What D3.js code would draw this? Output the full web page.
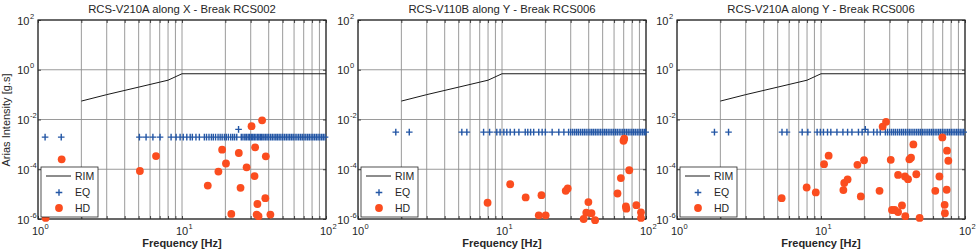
<!DOCTYPE html>
<html>
<head>
<meta charset="utf-8">
<script src="https://cdn.jsdelivr.net/npm/d3@7"></script>
<style>
body { margin: 0; background: #fff; }
text { font-family: "Liberation Sans", Arial, sans-serif; fill: #262626; }
</style>
</head>
<body>
<div id="chart"></div>
<script>
const titles = ["RCS-V210A along X - Break RCS002", "RCS-V110B along Y - Break RCS006", "RCS-V210A along Y - Break RCS006"];
const xTickExps = [0, 1, 2];
const yTickExps = [-6, -4, -2, 0, 2];
const legendLabels = ["RIM", "EQ", "HD"];

// RIM curve, same on the three plots
const rimFreq = [2, 3, 5, 8, 10, 100];
const rimLevel = [0.055, 0.1, 0.2, 0.38, 0.69, 0.69];

// EQ crosses: frequencies on one level, plus the odd one above it
const eqFreqA = [1.12, 1.45, 5.06, 5.63, 6.28, 7.04, 8.4, 9.1, 9.7, 10.2, 10.8, 11.4, 11.8, 12.5, 13.2, 14.3, 14.8, 15.4, 16.0, 16.5, 17.1, 17.8, 18.4, 19.0, 19.7, 20.3, 21.0, 21.8, 22.5, 23.2, 24.0, 25.8, 26.5, 27.3, 28.0, 28.8, 29.5, 30.3, 31.0, 31.8, 32.6, 33.5, 34.3, 35.2, 36.0, 37.0, 38.0, 39.0, 40.0, 41.2, 42.4, 43.6, 44.8, 46.0, 47.3, 48.6, 50.0, 51.5, 53.0, 54.5, 56.0, 57.6, 59.2, 61.0, 62.8, 64.6, 66.5, 68.4, 70.4, 72.4, 74.5, 76.6, 78.8, 81.0, 83.3, 85.7, 88.1, 90.6, 93.2, 95.8, 98.5];
const eqLevelA = 0.00195;
const eqExtraFreqA = [24.7];
const eqExtraLevelA = [0.004];

const eqFreqB = [1.83, 2.27, 5.26, 5.7, 7.45, 8.2, 9.2, 9.7, 10.3, 10.8, 11.4, 12.2, 13.1, 14.5, 15.1, 15.8, 16.6, 18.0, 19.0, 20.0, 22.3, 24.8, 26.9, 29.0, 30.0, 31.0, 32.0, 33.0, 34.0, 35.1, 36.2, 37.3, 38.4, 39.6, 40.8, 42.0, 43.2, 44.5, 45.8, 47.1, 48.5, 50.0, 51.5, 53.0, 54.6, 56.2, 57.9, 59.6, 61.4, 63.2, 65.1, 67.0, 69.0, 71.0, 73.1, 75.2, 77.4, 79.7, 82.0, 84.4, 86.9, 89.4, 92.0, 94.7, 97.4, 99.5];
const eqLevelB = 0.0031;
const eqExtraFreqB = [];
const eqExtraLevelB = [];

const eqFreqC = [1.82, 2.28, 5.36, 5.8, 7.4, 8.1, 9.4, 9.9, 10.4, 11.1, 11.7, 12.9, 14.2, 15.3, 16.4, 18.2, 19.3, 21.2, 23.2, 24.5, 25.8, 28.0, 29.0, 30.0, 31.0, 32.0, 33.0, 34.1, 35.2, 36.3, 37.4, 38.6, 39.8, 41.0, 42.2, 43.5, 44.8, 46.2, 47.6, 49.0, 50.5, 52.0, 53.6, 55.2, 56.8, 58.5, 60.2, 62.0, 63.8, 65.7, 67.6, 69.6, 71.6, 73.7, 75.8, 78.0, 80.3, 82.6, 85.0, 87.5, 90.0, 92.6, 95.3, 98.0];
const eqLevelC = 0.0031;
const eqExtraFreqC = [20.3];
const eqExtraLevelC = [0.004];

// HD dots
const hdFreqA = [1.13, 1.46, 5.1, 6.6, 15.1, 17.9, 19.0, 20.2, 22.0, 24.8, 25.5, 28.1, 30.4, 32.2, 31.9, 36.0, 38.2, 37.9, 33.4, 33.0, 34.0, 41.1];
const hdLevelA = [1.1e-6, 2.5e-4, 8.5e-5, 3.4e-4, 2.2e-5, 8.1e-5, 6.1e-4, 1.7e-4, 1.6e-6, 4.5e-4, 1.8e-5, 1.2e-4, 5.4e-3, 7.6e-4, 5.3e-5, 9.3e-3, 3.3e-4, 6.9e-6, 4e-6, 1.5e-6, 1.3e-6, 1.5e-6];

const hdFreqB = [7.94, 11.4, 14.6, 18.8, 18.0, 20.1, 27.7, 28.6, 39.8, 38.5, 41.8, 36.9, 44.3, 63.4, 66.9, 76.5, 69.8, 70.6, 72.5, 73.0, 85.7, 92.3, 92.3];
const hdLevelB = [4.5e-6, 2.5e-5, 7.4e-6, 9.1e-6, 1.4e-6, 1.4e-6, 1.36e-5, 1.7e-5, 4.8e-6, 1.8e-6, 1.7e-6, 1.0e-6, 0.9e-6, 1.06e-5, 4.4e-5, 9.1e-5, 1.4e-3, 1.7e-3, 3.2e-6, 2.6e-6, 3.6e-6, 1.85e-6, 1.1e-6];

const hdFreqC = [5.33, 7.95, 9.2, 10.5, 11.3, 14.3, 14.5, 15.3, 18.9, 17.9, 19.9, 25.5, 28.3, 26.8, 30.5, 31.1, 32.5, 34.3, 34.3, 36.5, 38.3, 38.5, 40.2, 41.1, 42.2, 43.8, 45.9, 48.4, 62.2, 66.4, 69.6, 72.2, 72.5, 74.6, 75.0, 76.6];
const hdLevelC = [6.9e-6, 1.85e-5, 1.17e-5, 1.6e-4, 3.5e-4, 1.45e-5, 2.8e-5, 3.9e-5, 8.1e-6, 1.5e-4, 2.3e-4, 1.36e-5, 8.1e-3, 5.2e-3, 2.4e-4, 2.3e-6, 2.3e-6, 1.9e-6, 5.9e-5, 3.5e-6, 5.1e-5, 1.3e-6, 4e-5, 2.5e-4, 2.9e-4, 1e-3, 6.3e-5, 1.1e-6, 1.36e-5, 5.1e-5, 1.9e-3, 3.7e-6, 1.7e-6, 1.5e-5, 5.6e-4, 2.2e-4];

const panels = [
    {title: titles[0], eqFreq: eqFreqA, eqLevel: eqLevelA, eqExtraFreq: eqExtraFreqA, eqExtraLevel: eqExtraLevelA, hdFreq: hdFreqA, hdLevel: hdLevelA},
    {title: titles[1], eqFreq: eqFreqB, eqLevel: eqLevelB, eqExtraFreq: eqExtraFreqB, eqExtraLevel: eqExtraLevelB, hdFreq: hdFreqB, hdLevel: hdLevelB},
    {title: titles[2], eqFreq: eqFreqC, eqLevel: eqLevelC, eqExtraFreq: eqExtraFreqC, eqExtraLevel: eqExtraLevelC, hdFreq: hdFreqC, hdLevel: hdLevelC}
];

const svgWidth = 976, svgHeight = 250;
const panelLeft = [38, 358, 677];
const panelWidth = 288;
const plotTop = 20, plotBottom = 219;
const eqColor = "#2356a5";
const hdColor = "#fb4d1f";
const gridColor = "#8e8e8e";

const svg = d3.select("#chart")
    .append("svg")
    .attr("width", svgWidth)
    .attr("height", svgHeight);

const crossPath = function (cx, cy, s) {
    return `M${cx - s},${cy}H${cx + s}M${cx},${cy - s}V${cy + s}`;
}

const drawPanel = function (p, i) {
    const x0 = panelLeft[i];
    const xScale = d3.scaleLog().domain([1, 100]).range([x0, x0 + panelWidth]);
    const yScale = d3.scaleLog().domain([1e-6, 1e2]).range([plotBottom, plotTop]);
    const g = svg.append("g");

    g.selectAll(".xgrid")
        .data(xScale.ticks())
        .join("line")
        .attr("x1", d => xScale(d)).attr("x2", d => xScale(d))
        .attr("y1", plotTop).attr("y2", plotBottom)
        .attr("stroke", gridColor).attr("stroke-width", 0.9);
    g.selectAll(".ygrid")
        .data(yTickExps)
        .join("line")
        .attr("x1", x0).attr("x2", x0 + panelWidth)
        .attr("y1", d => yScale(Math.pow(10, d))).attr("y2", d => yScale(Math.pow(10, d)))
        .attr("stroke", gridColor).attr("stroke-width", 0.9);

    // inward ticks on all four sides
    const minor = xScale.ticks();
    const yVals = yTickExps.map(e => Math.pow(10, e));
    g.append("g").attr("transform", `translate(0,${plotBottom})`)
        .call(d3.axisBottom(xScale).tickValues(minor).tickSize(-3).tickFormat(""));
    g.append("g").attr("transform", `translate(0,${plotTop})`)
        .call(d3.axisTop(xScale).tickValues(minor).tickSize(-3).tickFormat(""));
    g.append("g").attr("transform", `translate(${x0},0)`)
        .call(d3.axisLeft(yScale).tickValues(yVals).tickSize(-3).tickFormat(""));
    g.append("g").attr("transform", `translate(${x0 + panelWidth},0)`)
        .call(d3.axisRight(yScale).tickValues(yVals).tickSize(-3).tickFormat(""));
    g.selectAll(".domain").remove();
    g.selectAll(".tick line").attr("stroke", "#262626").attr("stroke-width", 0.8);

    g.append("rect")
        .attr("x", x0).attr("y", plotTop)
        .attr("width", panelWidth).attr("height", plotBottom - plotTop)
        .attr("fill", "none").attr("stroke", "#262626").attr("stroke-width", 1.2);

    // tick labels as 10 with exponent
    const xl = g.selectAll(".xlab").data(xTickExps).join("g");
    xl.append("text")
        .attr("x", d => xScale(Math.pow(10, d))).attr("y", 235)
        .attr("text-anchor", "middle").style("font-size", "11px").text("10");
    xl.append("text")
        .attr("x", d => xScale(Math.pow(10, d)) + 6.5).attr("y", 228.5)
        .style("font-size", "7.5px").text(d => d);
    const yl = g.selectAll(".ylab").data(yTickExps).join("g");
    yl.append("text")
        .attr("x", x0 - 8.5).attr("y", d => yScale(Math.pow(10, d)) + 4.5)
        .attr("text-anchor", "end").style("font-size", "11px").text("10");
    yl.append("text")
        .attr("x", x0 - 8).attr("y", d => yScale(Math.pow(10, d)) - 1.5)
        .style("font-size", "7.5px").text(d => d);

    const rimLine = d3.line()
        .x(d => xScale(d[0]))
        .y(d => yScale(d[1]));
    g.append("path")
        .attr("d", rimLine(d3.zip(rimFreq, rimLevel)))
        .attr("fill", "none").attr("stroke", "#1a1a1a").attr("stroke-width", 1);

    const eqPts = p.eqFreq.map(f => [f, p.eqLevel]).concat(d3.zip(p.eqExtraFreq, p.eqExtraLevel));
    g.append("path")
        .attr("d", eqPts.map(d => crossPath(xScale(d[0]), yScale(d[1]), 3.3)).join(""))
        .attr("fill", "none").attr("stroke", eqColor).attr("stroke-width", 1.4);

    g.selectAll(".hd")
        .data(d3.zip(p.hdFreq, p.hdLevel))
        .join("circle")
        .attr("cx", d => xScale(d[0])).attr("cy", d => yScale(d[1]))
        .attr("r", 3.9).attr("fill", hdColor);

    g.append("text")
        .attr("x", x0 + panelWidth / 2).attr("y", 13)
        .attr("text-anchor", "middle").style("font-size", "11.3px")
        .text(p.title);
    g.append("text")
        .attr("x", x0 + panelWidth / 2).attr("y", 247)
        .attr("text-anchor", "middle").style("font-size", "11px").style("font-weight", "700")
        .text("Frequency [Hz]");

    // legend
    const lx = x0 + 3, ly = 167;
    const lg = g.append("g").attr("transform", `translate(${lx},${ly})`);
    lg.append("rect")
        .attr("width", 57).attr("height", 50)
        .attr("fill", "#fff").attr("stroke", "#262626").attr("stroke-width", 0.8);
    lg.append("line")
        .attr("x1", 5).attr("x2", 30).attr("y1", 9).attr("y2", 9)
        .attr("stroke", "#1a1a1a").attr("stroke-width", 1);
    lg.append("path")
        .attr("d", crossPath(18, 25.5, 3.3))
        .attr("stroke", eqColor).attr("stroke-width", 1.4);
    lg.append("circle")
        .attr("cx", 18).attr("cy", 41).attr("r", 3.9).attr("fill", hdColor);
    lg.selectAll(".ltxt")
        .data(legendLabels)
        .join("text")
        .attr("x", 34).attr("y", (d, k) => 13 + k * 16)
        .style("font-size", "10.5px")
        .text(d => d);
}

panels.forEach((p, i) => drawPanel(p, i));

svg.append("text")
    .attr("transform", `translate(10,120) rotate(-90)`)
    .attr("text-anchor", "middle")
    .style("font-size", "11px")
    .text("Arias Intensity [g.s]");
</script>
</body>
</html>
